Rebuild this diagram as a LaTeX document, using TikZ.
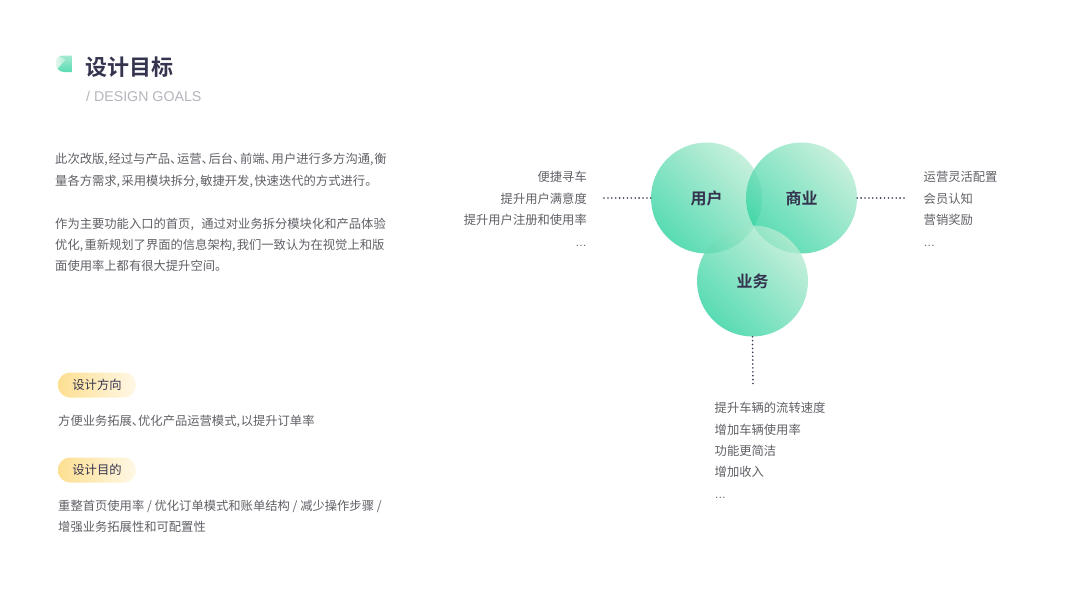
\documentclass[tikz,border=0pt]{standalone}
\usepackage{fontspec}
\setmainfont{Liberation Sans}
\newfontfamily\cjk[RawFeature={+palt}]{Noto Sans CJK SC}
\newfontfamily\cjkb[RawFeature={+palt}]{Noto Sans CJK SC Bold}
\newcommand{\pk}{\kern0.8pt}
\usetikzlibrary{calc}
\definecolor{ink}{HTML}{35344F}
\definecolor{bodyc}{HTML}{5F5F66}
\definecolor{subc}{HTML}{B4B4BC}
\definecolor{mintd}{HTML}{2FD2A0}
\definecolor{mintl}{HTML}{B8ECD3}
\definecolor{mintm}{HTML}{A5EAD2}
\definecolor{iconl}{HTML}{E6F8F0}
\definecolor{icond}{HTML}{5ADBB3}
\definecolor{pilld}{HTML}{FDDF91}
\definecolor{pilll}{HTML}{FFF8E6}
\tikzset{
 x=1pt,y=-1pt,
 bodytext/.style={anchor=base west,inner sep=0pt,text=bodyc,font=\fontsize{12.3}{15}\cjk},
 righttext/.style={bodytext,anchor=base east},
 more/.style={font=\fontsize{11.5}{12}\rmfamily},
 ball/.style={circle,minimum size=111pt,inner sep=0pt,shade,top color=mintl,bottom color=mintd,shading=axis,shading angle=-45,fill opacity=.8,text opacity=1,text=ink,font=\fontsize{16}{18}\cjkb},
 pill/.style={rounded corners=12pt,minimum width=78pt,minimum height=25pt,inner sep=0pt,shade,left color=pilld,right color=pilll,shading=axis,shading angle=90,text=ink,font=\fontsize{12.3}{15}\cjk},
 dots/.style={ink,line width=1.8pt,line cap=round,dash pattern=on 0pt off 3.9pt},
}
\begin{document}
\begin{tikzpicture}
\useasboundingbox (0,0) rectangle (1067,600);
\begin{scope}
\clip (56,63) .. controls (56,58.5) and (59,55.5) .. (63,55.5) -- (72,55.5) -- (72,72) -- (64,72) .. controls (59,72) and (56,68) .. (56,63) -- cycle;
\shade[top color=mintm,bottom color=icond] (56,55) rectangle (72,72);
\shade[left color=iconl,right color=mintm] (56,55) -- (66,59.5) -- (56,70) -- cycle;
\end{scope}
\node[anchor=base west,inner sep=0pt,text=ink,font=\fontsize{22}{26}\cjkb] (title) at (85.5,75) {设计目标};
\node[anchor=base west,inner sep=0pt,text=subc,font=\fontsize{14.2}{16}\selectfont] (sub) at (86,101) {/ DESIGN GOALS};
\node[bodytext] (p1) at (55,163) {此次改版,\pk 经过与产品、\pk 运营、\pk 后台、\pk 前端、\pk 用户进行多方沟通,\pk 衡};
\node[bodytext] (p2) at (55,185) {量各方需求,\kern1.5pt 采用模块拆分,\kern1.5pt 敏捷开发,\kern1.5pt 快速迭代的方式进行。};
\node[bodytext] (p3) at (55,228) {作为主要功能入口的首页,\kern7.4pt 通过对业务拆分模块化和产品体验};
\node[bodytext] (p4) at (55,249) {优化,\kern1.3pt 重新规划了界面的信息架构,\kern1.3pt 我们一致认为在视觉上和版};
\node[bodytext] (p5) at (55,270) {面使用率上都有很大提升空间。};
\node[pill] (d1) at (97,385) {设计方向};
\node[bodytext] (d1t) at (58,425) {方便业务拓展、优化产品运营模式,\pk 以提升订单率};
\node[pill] (d2) at (97,470) {设计目的};
\node[bodytext] (d2a) at (58,510) {重整首页使用率 / 优化订单模式和账单结构 / 减少操作步骤 /};
\node[bodytext] (d2b) at (58,531) {增强业务拓展性和可配置性};
\node[ball] (u) at (706.5,198) {用户};
\node[ball] (s) at (801.5,198) {商业};
\node[ball] (b) at (752.5,281) {业务};
\coordinate (ul) at (604,198);
\coordinate (sr) at (905,198);
\coordinate (bb) at (753,384);
\draw[dots] (u.west) -- (ul);
\draw[dots] (s.east) -- (sr);
\draw[dots] (b.south) -- (bb);
\node[righttext] (l1) at (587,181) {便捷寻车};
\node[righttext] (l2) at (587,203) {提升用户满意度};
\node[righttext] (l3) at (587,224) {提升用户注册和使用率};
\node[righttext,more] (l4) at (587,246) {…};
\node[bodytext] (r1) at (923.5,181) {运营灵活配置};
\node[bodytext] (r2) at (923.5,203) {会员认知};
\node[bodytext] (r3) at (923.5,224) {营销奖励};
\node[bodytext,more] (r4) at (923.5,246) {…};
\node[bodytext] (b1) at (714.5,412) {提升车辆的流转速度};
\node[bodytext] (b2) at (714.5,434) {增加车辆使用率};
\node[bodytext] (b3) at (714.5,455) {功能更简洁};
\node[bodytext] (b4) at (714.5,476) {增加收入};
\node[bodytext,more] (b5) at (714.5,498) {…};
\end{tikzpicture}
\end{document}
